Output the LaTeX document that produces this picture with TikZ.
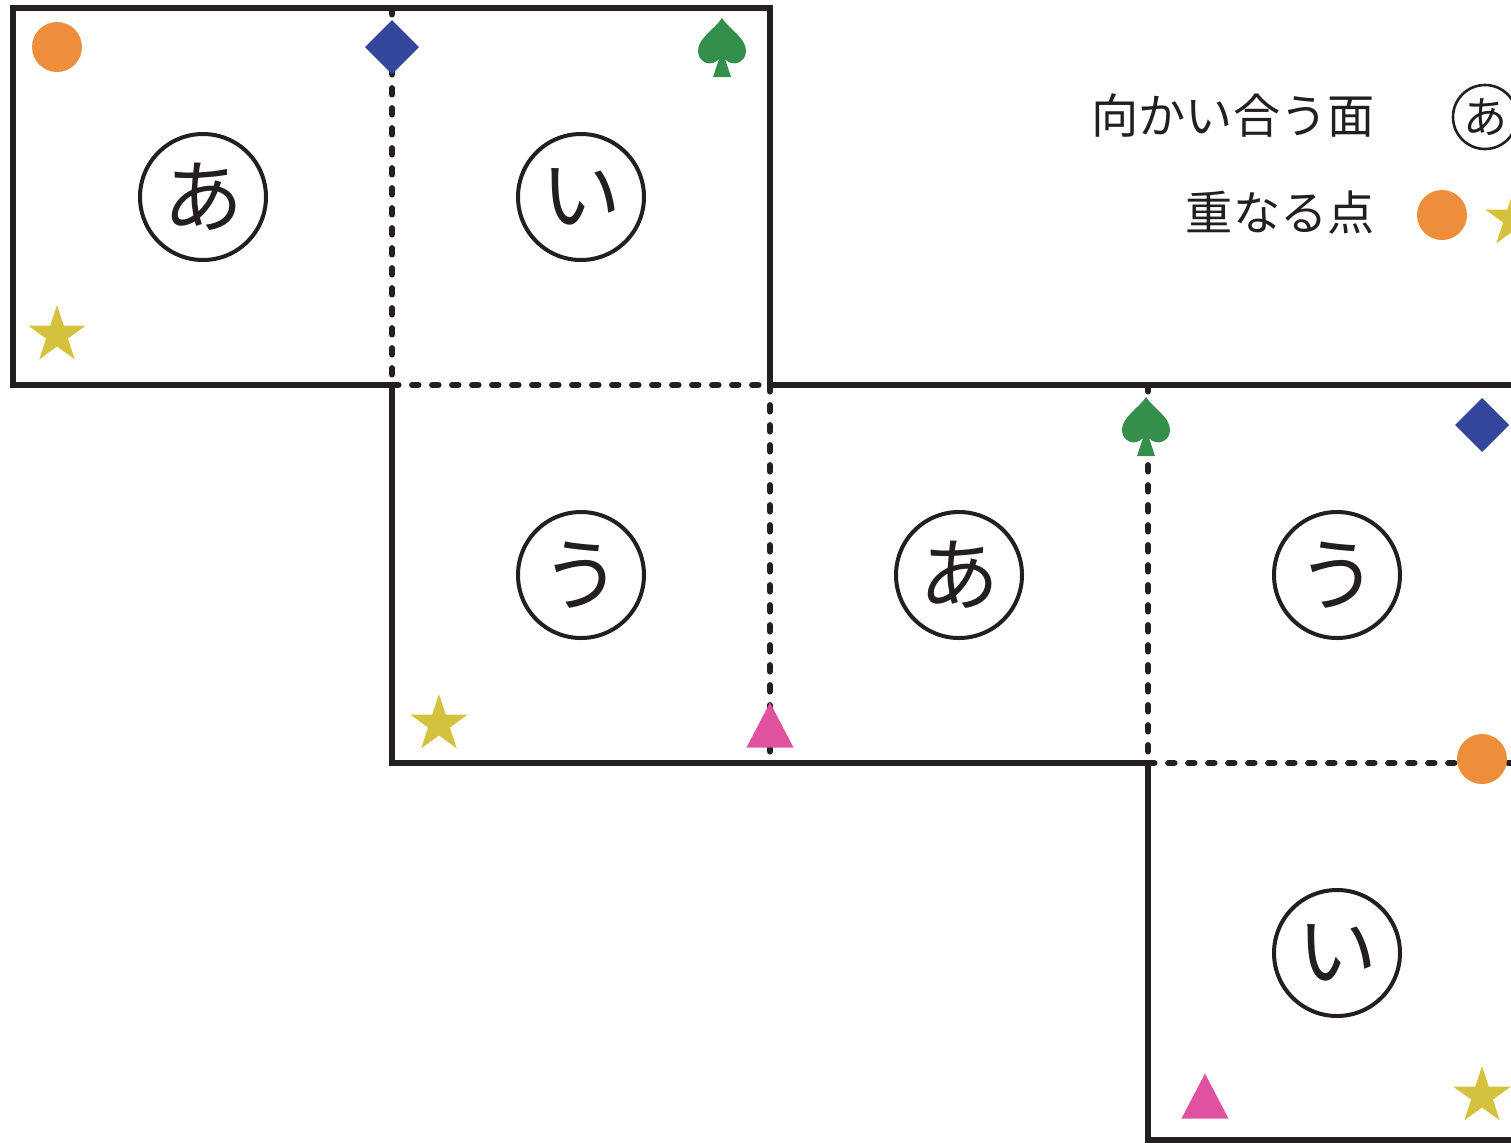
\documentclass[tikz,border=0pt]{standalone}
\usepackage{fontspec}
\newfontfamily\jp{Noto Sans CJK JP}
\definecolor{ink}{HTML}{231F20}
\definecolor{morange}{HTML}{EE8D3A}
\definecolor{mblue}{HTML}{33469B}
\definecolor{mgreen}{HTML}{348F4A}
\definecolor{myellow}{HTML}{D4C23E}
\definecolor{mpink}{HTML}{E0519F}
\tikzset{
  edge/.style={draw=ink, line width=3pt, line join=miter},
  fold/.style={draw=ink, line width=2.9pt, line cap=round, dash pattern=on 3.3pt off 6.7pt},
  face/.style={circle, draw=ink, line width=2pt, minimum size=63pt, inner sep=0pt, font=\jp\fontsize{40pt}{40pt}\selectfont, text=ink},
  legendtext/.style={anchor=east, inner sep=0pt, font=\jp\fontsize{23.6pt}{23.6pt}\selectfont, text=ink},
  legendface/.style={circle, draw=ink, line width=1.3pt, minimum size=32pt, inner sep=0pt, font=\jp\fontsize{22pt}{22pt}\selectfont, text=ink},
  pics/mdot/.style={code={\fill[morange] (0,0) circle (25);}},
  pics/mdiamond/.style={code={\fill[mblue] (0,-27) -- (27,0) -- (0,27) -- (-27,0) -- cycle;}},
  pics/mtri/.style={code={\fill[mpink] (0,-22.5) -- (23.5,22.5) -- (-23.5,22.5) -- cycle;}},
  pics/mstar/.style={code={\fill[myellow] (-90:30) -- (-54:11.46) -- (-18:30) -- (18:11.46) -- (54:30) -- (90:11.46) -- (126:30) -- (162:11.46) -- (198:30) -- (234:11.46) -- cycle;}},
  pics/mspade/.style={code={\fill[mgreen] (0,-29) .. controls (-8,-17) and (-24,-9) .. (-24,4) .. controls (-24,15) and (-11,21) .. (-3,12) -- (-9,30) -- (9,30) -- (3,12) .. controls (11,21) and (24,15) .. (24,4) .. controls (24,-9) and (8,-17) .. (0,-29) -- cycle;}},
}
\begin{document}
\begin{tikzpicture}[x=0.5pt, y=-0.5pt]
\useasboundingbox (0,0) rectangle (1511,1142);
\clip (0,0) rectangle (1511,1142);
% corners of the net
\coordinate (p1) at (13,8);
\coordinate (p2) at (770,8);
\coordinate (p3) at (770,385);
\coordinate (p4) at (1526,385);
\coordinate (p5) at (1526,1140);
\coordinate (p6) at (1148,1140);
\coordinate (p7) at (1148,763);
\coordinate (p8) at (392,763);
\coordinate (p9) at (392,385);
\coordinate (p10) at (13,385);
\coordinate (q1) at (392,8);
\coordinate (q2) at (770,763);
\coordinate (q3) at (1148,385);
\coordinate (q4) at (1526,763);
% fold lines
\draw[fold] (q1) -- (p9);
\draw[fold] (p9) -- (p3);
\draw[fold] (p3) -- (q2);
\draw[fold] (q3) -- (p7);
\draw[fold] (p7) -- (q4);
% outline
\draw[edge] (p1) -- (p2) -- (p3) -- (p4) -- (p5) -- (p6) -- (p7) -- (p8) -- (p9) -- (p10) -- cycle;
% faces
\node[face] (f1) at (203,197) {あ};
\node[face] (f2) at (581,197) {い};
\node[face] (f3) at (581,575) {う};
\node[face] (f4) at (959,575) {あ};
\node[face] (f5) at (1337,575) {う};
\node[face] (f6) at (1337,953) {い};
% markers
\pic at (57,47) {mdot};
\pic at (392,47) {mdiamond};
\pic at (722,47) {mspade};
\pic at (57,335) {mstar};
\pic at (439,724) {mstar};
\pic at (770,725) {mtri};
\pic at (1146,426) {mspade};
\pic at (1482,425) {mdiamond};
\pic at (1482,759) {mdot};
\pic at (1205,1096) {mtri};
\pic at (1482,1096) {mstar};
% legend
\node[legendtext] (l1) at (1375,116) {向かい合う面};
\node[legendtext] (l2) at (1375,213) {重なる点};
\node[legendface] (l3) at (1485,117) {あ};
\pic at (1442,215) {mdot};
\pic at (1514,219) {mstar};
\end{tikzpicture}
\end{document}
